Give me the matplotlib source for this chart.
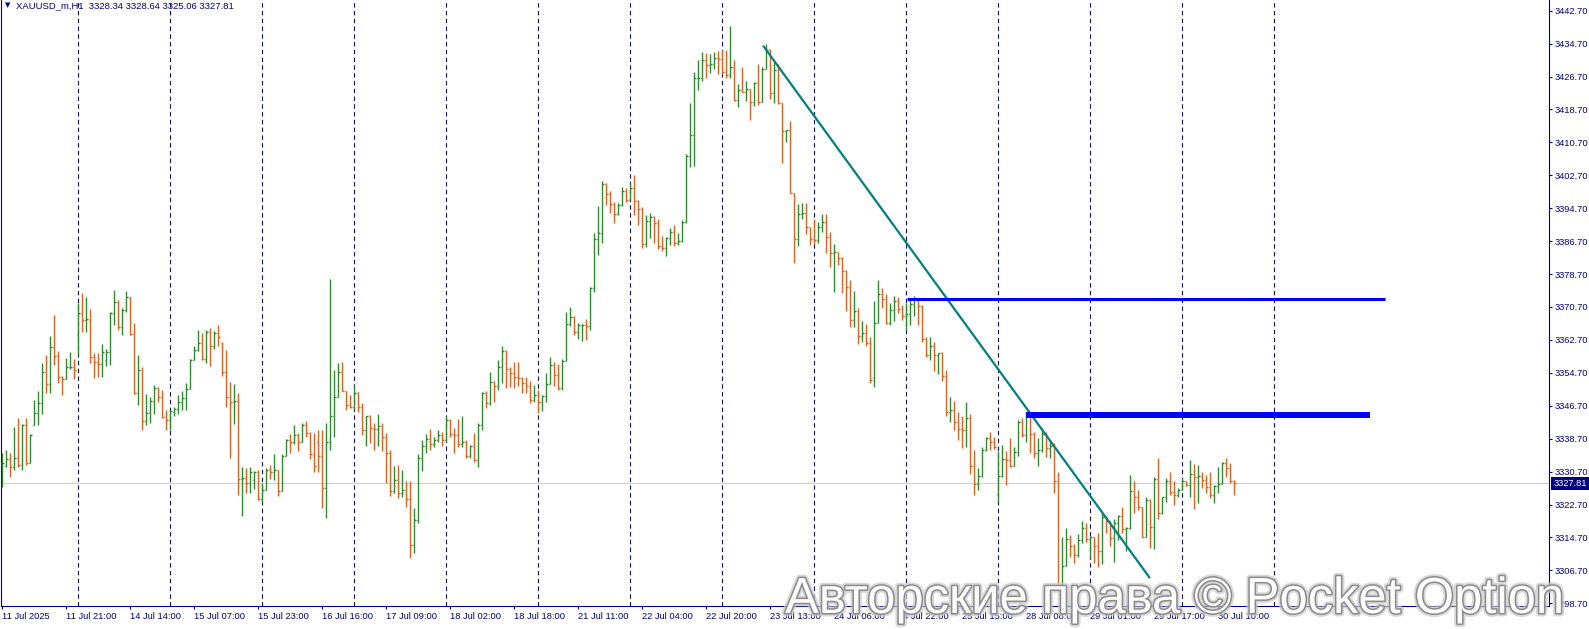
import matplotlib
matplotlib.use("Agg")
import matplotlib.pyplot as plt
import matplotlib.patheffects as pe
import numpy as np

plt.rcParams['font.family'] = ['Liberation Sans', 'DejaVu Sans']

# ---------------- data (XAUUSD_m, H1) ----------------
opens = [
    3332.3, 3332.1, 3333.7, 3331.8, 3334.1, 3332.3, 3341.9, 3332.9, 3342.0, 3344.9,
    3347.3, 3355.0, 3352.0, 3361.0, 3358.7, 3353.8, 3353.2, 3356.0, 3356.1, 3363.8,
    3369.3, 3367.5, 3367.5, 3358.5, 3357.3, 3356.8, 3357.7, 3359.7, 3369.2, 3371.9,
    3365.9, 3370.0, 3373.2, 3364.2, 3349.9, 3355.4, 3343.1, 3344.9, 3347.9, 3351.0,
    3348.8, 3343.9, 3343.3, 3345.3, 3345.9, 3347.6, 3348.5, 3350.7, 3357.8, 3360.3,
    3362.0, 3358.0, 3364.6, 3361.1, 3364.3, 3362.0, 3354.8, 3348.9, 3347.7, 3347.9,
    3328.8, 3329.1, 3328.0, 3328.7, 3330.7, 3324.0, 3326.3, 3331.1, 3330.7, 3331.1,
    3326.1, 3334.4, 3338.4, 3338.0, 3339.5, 3337.8, 3342.0, 3340.0, 3335.0, 3338.0,
    3334.5, 3326.7, 3338.0, 3344.1, 3348.9, 3354.8, 3350.4, 3346.9, 3346.5, 3349.7,
    3346.5, 3340.8, 3344.1, 3341.2, 3341.0, 3341.8, 3339.2, 3335.3, 3325.9, 3328.7,
    3325.5, 3326.3, 3324.0, 3312.9, 3318.9, 3333.9, 3336.8, 3338.5, 3337.4, 3338.4,
    3339.6, 3338.4, 3343.3, 3339.9, 3339.5, 3337.4, 3337.8, 3334.4, 3336.8, 3333.4,
    3342.0, 3349.7, 3347.3, 3352.5, 3351.4, 3356.2, 3360.1, 3355.6, 3354.6, 3353.6,
    3353.4, 3352.3, 3351.4, 3348.1, 3349.3, 3347.7, 3349.1, 3352.0, 3356.6, 3354.2,
    3351.1, 3357.6, 3366.6, 3368.2, 3364.5, 3366.2, 3366.4, 3366.0, 3375.4, 3387.1,
    3388.6, 3400.5, 3398.1, 3395.7, 3393.3, 3395.5, 3398.9, 3396.7, 3399.5, 3396.5,
    3394.4, 3385.9, 3391.6, 3392.5, 3391.0, 3385.5, 3385.1, 3387.4, 3388.9, 3386.2,
    3386.8, 3391.3, 3407.5, 3412.5, 3426.3, 3426.4, 3430.7, 3429.5, 3429.8, 3431.3,
    3430.9, 3427.9, 3427.1, 3428.9, 3421.0, 3423.4, 3423.0, 3423.7, 3420.4, 3425.1,
    3420.6, 3428.5, 3433.2, 3422.6, 3428.3, 3420.2, 3413.5, 3413.7, 3398.3, 3387.1,
    3393.3, 3393.5, 3390.1, 3387.1, 3387.0, 3390.1, 3391.4, 3387.6, 3383.9, 3384.1,
    3382.5, 3379.5, 3375.6, 3367.5, 3369.8, 3363.7, 3364.3, 3362.0, 3353.4, 3366.7,
    3373.8, 3372.6, 3366.9, 3370.0, 3372.2, 3370.1, 3368.4, 3369.0, 3371.4, 3373.0,
    3370.9, 3362.9, 3359.0, 3361.1, 3359.0, 3359.4, 3353.9, 3345.3, 3345.7, 3342.8,
    3341.0, 3340.7, 3343.7, 3332.1, 3327.7, 3329.7, 3336.0, 3338.8, 3338.0, 3325.3,
    3329.7, 3333.7, 3333.4, 3332.1, 3335.5, 3342.8, 3339.6, 3344.1, 3339.9, 3335.2,
    3336.0, 3339.9, 3336.5, 3336.8, 3328.3, 3302.0, 3307.8, 3314.3, 3312.6, 3310.5,
    3314.1, 3316.9, 3314.3, 3314.7, 3312.5, 3311.3, 3319.6, 3318.6, 3314.5, 3318.3,
    3319.8, 3316.7, 3317.0, 3326.1, 3324.6, 3322.0, 3314.9, 3323.7, 3317.3, 3328.8,
    3320.6, 3324.5, 3328.3, 3325.8, 3325.0, 3326.2, 3328.3, 3327.5, 3330.1, 3329.3,
    3329.6, 3328.7, 3326.9, 3325.0, 3327.1, 3327.7, 3332.7, 3331.5, 3328.34,
]
highs = [
    3335.2, 3336.0, 3335.3, 3341.6, 3343.7, 3342.3, 3343.7, 3339.9, 3348.1, 3350.3,
    3357.2, 3359.1, 3363.7, 3368.8, 3359.9, 3353.9, 3358.2, 3359.8, 3358.0, 3371.6,
    3374.2, 3373.2, 3370.2, 3359.6, 3359.5, 3361.7, 3360.4, 3369.6, 3374.8, 3372.4,
    3370.4, 3374.7, 3373.2, 3366.7, 3359.1, 3356.2, 3349.6, 3348.9, 3351.8, 3351.2,
    3350.5, 3345.7, 3345.7, 3346.5, 3349.3, 3350.4, 3352.2, 3358.1, 3361.2, 3365.0,
    3364.3, 3365.1, 3365.5, 3364.9, 3366.3, 3362.3, 3360.3, 3352.4, 3352.0, 3349.9,
    3331.9, 3331.5, 3331.9, 3330.9, 3331.1, 3327.9, 3331.6, 3332.3, 3334.9, 3331.1,
    3334.9, 3338.6, 3339.8, 3342.0, 3340.0, 3342.5, 3342.9, 3340.2, 3340.0, 3340.8,
    3340.7, 3342.5, 3377.4, 3355.4, 3357.2, 3357.4, 3350.4, 3349.3, 3351.8, 3350.1,
    3347.3, 3344.2, 3344.4, 3342.5, 3344.7, 3342.6, 3340.0, 3336.0, 3332.1, 3332.2,
    3331.1, 3328.3, 3328.3, 3321.8, 3335.0, 3338.4, 3339.9, 3341.0, 3339.0, 3340.7,
    3340.2, 3344.1, 3343.4, 3341.2, 3343.4, 3344.2, 3338.4, 3337.2, 3340.0, 3342.6,
    3350.1, 3350.4, 3355.0, 3352.6, 3357.7, 3361.2, 3360.3, 3356.2, 3357.4, 3357.4,
    3353.6, 3353.6, 3352.8, 3351.8, 3350.5, 3349.3, 3354.6, 3358.6, 3357.4, 3356.9,
    3358.0, 3369.6, 3370.8, 3368.4, 3366.7, 3366.6, 3367.9, 3375.6, 3388.6, 3395.3,
    3401.4, 3400.9, 3398.9, 3396.1, 3395.9, 3399.8, 3399.5, 3400.9, 3402.8, 3396.6,
    3395.1, 3393.1, 3393.6, 3392.7, 3392.2, 3388.0, 3387.6, 3390.0, 3390.6, 3388.6,
    3391.9, 3407.8, 3420.2, 3427.7, 3430.7, 3432.7, 3432.3, 3432.1, 3432.6, 3432.8,
    3433.2, 3433.2, 3439.0, 3430.7, 3424.8, 3428.9, 3425.5, 3423.7, 3425.3, 3429.7,
    3428.9, 3434.5, 3433.4, 3430.5, 3429.7, 3420.2, 3413.7, 3415.9, 3398.3, 3395.7,
    3395.9, 3395.9, 3390.1, 3392.2, 3391.4, 3393.3, 3393.3, 3389.0, 3386.0, 3384.1,
    3382.9, 3379.7, 3377.3, 3374.7, 3370.4, 3367.4, 3366.6, 3363.5, 3372.2, 3377.3,
    3375.2, 3373.9, 3371.6, 3373.4, 3373.2, 3371.2, 3371.6, 3372.8, 3373.4, 3373.0,
    3371.2, 3363.5, 3363.3, 3362.3, 3359.6, 3359.8, 3355.4, 3348.9, 3347.9, 3345.3,
    3344.1, 3347.6, 3344.7, 3336.0, 3331.5, 3336.6, 3339.2, 3340.2, 3339.2, 3335.6,
    3337.2, 3335.6, 3338.8, 3336.6, 3343.3, 3343.7, 3345.0, 3344.9, 3340.4, 3338.8,
    3341.2, 3340.4, 3338.4, 3337.6, 3330.5, 3314.9, 3316.9, 3315.3, 3313.1, 3315.6,
    3318.6, 3318.3, 3315.1, 3314.7, 3315.7, 3320.6, 3319.8, 3318.8, 3319.1, 3320.2,
    3322.2, 3317.3, 3329.9, 3328.3, 3326.2, 3322.0, 3324.5, 3324.0, 3329.5, 3333.9,
    3324.6, 3329.1, 3330.7, 3328.5, 3326.6, 3329.1, 3328.3, 3333.5, 3332.6, 3332.3,
    3330.5, 3329.9, 3330.7, 3327.5, 3331.9, 3333.1, 3333.9, 3332.9, 3328.64,
]
lows = [
    3326.9, 3331.8, 3329.5, 3331.1, 3331.9, 3331.0, 3332.3, 3332.7, 3341.9, 3341.9,
    3344.7, 3349.9, 3349.9, 3356.6, 3352.3, 3349.2, 3353.1, 3355.7, 3353.1, 3359.1,
    3364.6, 3364.7, 3357.0, 3353.5, 3353.6, 3353.8, 3356.4, 3356.5, 3366.3, 3365.1,
    3363.9, 3369.6, 3363.9, 3349.6, 3346.9, 3340.8, 3342.0, 3342.6, 3344.7, 3347.7,
    3343.7, 3340.8, 3340.7, 3344.1, 3344.6, 3345.7, 3345.7, 3350.7, 3357.8, 3360.1,
    3357.7, 3357.2, 3356.4, 3360.5, 3361.2, 3353.9, 3346.3, 3334.1, 3342.3, 3325.0,
    3319.9, 3325.6, 3325.6, 3326.4, 3323.7, 3323.2, 3326.3, 3328.9, 3328.7, 3324.8,
    3325.9, 3334.4, 3335.3, 3337.4, 3335.8, 3337.8, 3339.2, 3333.7, 3330.7, 3330.7,
    3321.8, 3319.4, 3336.0, 3339.2, 3348.9, 3350.4, 3345.7, 3346.1, 3345.7, 3345.3,
    3339.6, 3337.0, 3337.6, 3336.0, 3336.8, 3335.8, 3328.0, 3324.8, 3325.6, 3324.4,
    3324.6, 3322.0, 3309.7, 3310.9, 3318.2, 3330.9, 3335.3, 3336.0, 3336.6, 3338.0,
    3336.8, 3337.8, 3339.2, 3335.2, 3336.6, 3336.6, 3333.9, 3333.9, 3333.1, 3331.8,
    3340.7, 3346.1, 3347.0, 3347.7, 3350.5, 3352.2, 3351.0, 3351.2, 3351.0, 3351.4,
    3349.9, 3349.9, 3347.4, 3347.7, 3344.9, 3345.5, 3347.5, 3352.0, 3351.5, 3350.5,
    3350.5, 3357.6, 3366.1, 3363.9, 3362.9, 3362.5, 3362.7, 3365.0, 3374.4, 3383.3,
    3386.2, 3395.5, 3393.6, 3391.2, 3393.1, 3395.3, 3396.3, 3396.7, 3393.1, 3390.6,
    3385.0, 3385.2, 3387.4, 3386.2, 3384.7, 3384.2, 3383.2, 3385.8, 3385.6, 3385.8,
    3386.6, 3391.1, 3404.8, 3405.0, 3423.4, 3425.5, 3426.3, 3427.5, 3428.5, 3427.2,
    3427.2, 3426.3, 3426.4, 3420.8, 3419.2, 3422.9, 3420.8, 3416.2, 3419.6, 3419.8,
    3420.5, 3428.5, 3421.2, 3420.2, 3420.0, 3405.6, 3410.7, 3398.3, 3381.3, 3385.5,
    3392.2, 3388.4, 3385.8, 3386.0, 3386.3, 3388.8, 3383.7, 3380.5, 3374.4, 3380.9,
    3374.2, 3369.8, 3365.9, 3365.8, 3361.7, 3362.3, 3361.1, 3352.3, 3351.2, 3366.7,
    3370.4, 3366.6, 3366.3, 3367.4, 3369.3, 3367.6, 3365.1, 3366.3, 3368.4, 3366.3,
    3362.3, 3358.6, 3357.7, 3355.2, 3354.4, 3352.6, 3344.1, 3342.8, 3340.7, 3338.4,
    3336.4, 3336.6, 3330.1, 3325.0, 3326.3, 3329.5, 3335.6, 3336.0, 3336.1, 3323.4,
    3329.3, 3327.5, 3331.9, 3332.0, 3334.4, 3339.2, 3338.0, 3335.3, 3333.9, 3332.1,
    3335.5, 3334.3, 3333.9, 3325.4, 3301.6, 3301.9, 3307.8, 3310.0, 3308.6, 3310.0,
    3313.3, 3313.7, 3309.6, 3308.6, 3307.6, 3308.3, 3315.7, 3312.5, 3308.8, 3314.1,
    3315.7, 3311.3, 3316.7, 3320.7, 3321.4, 3314.8, 3314.8, 3312.1, 3311.8, 3319.1,
    3320.5, 3323.4, 3325.0, 3322.6, 3324.6, 3326.2, 3327.1, 3324.6, 3321.5, 3323.0,
    3326.7, 3325.4, 3324.2, 3323.0, 3325.4, 3327.6, 3329.5, 3327.9, 3325.06,
]
closes = [
    3332.7, 3333.8, 3331.8, 3334.1, 3332.3, 3341.9, 3332.9, 3339.5, 3344.9, 3347.3,
    3355.0, 3352.0, 3361.0, 3358.7, 3353.8, 3353.2, 3356.0, 3356.1, 3355.4, 3369.3,
    3367.5, 3367.7, 3358.5, 3357.3, 3356.8, 3359.7, 3359.7, 3369.2, 3371.9, 3365.9,
    3370.0, 3373.2, 3364.2, 3349.9, 3355.4, 3343.1, 3344.9, 3347.9, 3351.0, 3348.8,
    3343.9, 3343.3, 3345.5, 3345.9, 3347.6, 3348.5, 3350.7, 3357.8, 3360.3, 3362.0,
    3358.0, 3364.6, 3361.1, 3364.3, 3363.5, 3354.8, 3348.9, 3347.7, 3347.9, 3328.8,
    3329.1, 3328.0, 3330.7, 3330.7, 3324.0, 3326.3, 3331.1, 3330.7, 3331.1, 3326.1,
    3334.4, 3338.4, 3338.0, 3339.5, 3337.8, 3342.0, 3340.0, 3335.0, 3332.0, 3334.5,
    3326.7, 3338.0, 3344.1, 3348.9, 3354.8, 3350.4, 3346.9, 3346.5, 3349.7, 3346.5,
    3340.8, 3344.1, 3341.2, 3341.0, 3341.8, 3339.2, 3335.3, 3325.9, 3328.7, 3325.5,
    3326.3, 3324.0, 3312.9, 3318.9, 3333.9, 3336.8, 3338.5, 3337.4, 3338.4, 3339.6,
    3338.4, 3343.3, 3339.9, 3339.5, 3337.4, 3337.8, 3334.4, 3336.8, 3333.4, 3342.0,
    3349.7, 3347.3, 3352.5, 3351.4, 3356.2, 3360.1, 3355.6, 3354.6, 3353.6, 3353.4,
    3352.3, 3351.4, 3348.1, 3349.3, 3347.7, 3349.1, 3352.0, 3356.6, 3354.2, 3351.1,
    3357.6, 3366.6, 3368.2, 3364.5, 3366.2, 3366.4, 3366.0, 3375.4, 3387.1, 3388.6,
    3400.5, 3398.1, 3395.7, 3393.3, 3395.5, 3398.9, 3396.7, 3399.5, 3396.5, 3394.4,
    3385.9, 3391.6, 3392.5, 3391.0, 3385.5, 3385.1, 3387.4, 3388.9, 3386.2, 3386.8,
    3391.3, 3407.5, 3412.5, 3426.3, 3426.4, 3430.7, 3429.5, 3429.8, 3431.3, 3430.9,
    3427.9, 3427.1, 3428.9, 3421.0, 3423.4, 3423.0, 3423.7, 3420.4, 3425.1, 3420.6,
    3428.5, 3433.2, 3422.6, 3428.3, 3420.2, 3413.5, 3413.7, 3398.3, 3387.1, 3393.3,
    3393.5, 3390.1, 3387.1, 3387.0, 3390.1, 3391.4, 3387.6, 3383.9, 3384.1, 3382.5,
    3379.5, 3375.6, 3367.5, 3369.8, 3363.7, 3364.3, 3362.0, 3353.0, 3366.7, 3373.8,
    3372.6, 3366.9, 3370.0, 3372.2, 3370.1, 3368.4, 3369.0, 3371.4, 3373.0, 3370.9,
    3362.9, 3359.0, 3361.1, 3359.0, 3359.4, 3353.9, 3345.3, 3345.7, 3342.8, 3341.0,
    3340.7, 3343.7, 3332.1, 3327.7, 3329.7, 3336.0, 3338.8, 3338.0, 3336.6, 3329.7,
    3333.7, 3333.4, 3332.1, 3335.5, 3342.8, 3339.6, 3344.1, 3339.9, 3335.2, 3336.0,
    3339.9, 3336.5, 3336.8, 3328.3, 3302.0, 3307.8, 3314.3, 3312.6, 3310.5, 3314.1,
    3316.9, 3314.3, 3314.7, 3312.5, 3311.3, 3319.6, 3318.6, 3314.5, 3318.3, 3319.8,
    3316.7, 3317.0, 3326.1, 3324.6, 3322.0, 3314.9, 3323.7, 3317.3, 3328.8, 3320.6,
    3324.5, 3328.3, 3325.8, 3325.0, 3326.2, 3328.3, 3327.5, 3330.1, 3329.3, 3329.6,
    3328.7, 3326.9, 3325.0, 3327.1, 3327.7, 3332.7, 3331.5, 3328.3, 3327.81,
]

time_labels = ['11 Jul 2025', '11 Jul 21:00', '14 Jul 14:00', '15 Jul 07:00', '15 Jul 23:00',
               '16 Jul 16:00', '17 Jul 09:00', '18 Jul 02:00', '18 Jul 18:00', '21 Jul 11:00',
               '22 Jul 04:00', '22 Jul 20:00', '23 Jul 13:00', '24 Jul 06:00', '24 Jul 22:00',
               '25 Jul 15:00', '28 Jul 08:00', '29 Jul 01:00', '29 Jul 17:00', '30 Jul 10:00']
label_bars = list(range(0, 305, 16))
day_start_bars = list(range(19, 319, 23))
price_ticks = [3298.70 + 8 * k for k in range(19)]
last_price = 3327.81

trend_x = [190.2, 286.9]
trend_y = [3434.2, 3304.8]
level_hi = 3372.6
level_hi_x = [226.1, 345.7]
level_lo = 3344.5
level_lo_x = [255.9, 341.9]

# ---------------- figure ----------------
W, H = 1589, 629
fig = plt.figure(figsize=(W / 100, H / 100), dpi=100)
fig.patch.set_facecolor('white')
ax_left, ax_right, ax_top, ax_bot = 1, 1549, 0, 606
ax = fig.add_axes([ax_left / W, 1 - ax_bot / H, (ax_right - ax_left) / W, (ax_bot - ax_top) / H])

px_per_bar = 4.0
x0_px = 2.33
ax.set_xlim((ax_left - x0_px) / px_per_bar, (ax_right - x0_px) / px_per_bar)
ppu = 4.115
ax.set_ylim(3442.7 - (ax_bot - 10.7) / ppu, 3442.7 - (ax_top - 10.7) / ppu)

navy = '#000080'
grid_col = '#10106a'
up_col = '#2f8a2f'
dn_col = '#e0621e'

idx = np.arange(len(closes))
o = np.array(opens); h = np.array(highs); l = np.array(lows); c = np.array(closes)
cols = [up_col if cc > oo else dn_col for oo, cc in zip(o, c)]

# grid (day separators) and current price line
for b in day_start_bars:
    ax.axvline(b, color=grid_col, lw=0.8, linestyle=(0, (4, 3)), zorder=1, snap=True)
ax.axhline(last_price, color='#cfcfcf', lw=0.8, zorder=0.5, snap=True)

# OHLC bars
tw = 0.45
ax.vlines(idx, l, h, colors=cols, lw=1.0, zorder=3)
ax.hlines(o, idx - tw, idx, colors=cols, lw=1.0, zorder=3)
ax.hlines(c, idx, idx + tw, colors=cols, lw=1.0, zorder=3)

# drawn objects
ax.plot(trend_x, trend_y, color='#008080', lw=1.6, zorder=4, solid_capstyle='butt')
ax.hlines(level_hi, level_hi_x[0], level_hi_x[1], color='#0000ff', lw=2.2, zorder=4)
ax.hlines(level_lo, level_lo_x[0], level_lo_x[1], color='#0000ff', lw=4.3, zorder=4)

# spines
ax.spines['top'].set_visible(False)
for s in ['left', 'right', 'bottom']:
    ax.spines[s].set_color(navy)
    ax.spines[s].set_linewidth(0.8)

# axes ticks
ax.yaxis.tick_right()
ax.set_yticks(price_ticks)
ax.set_yticklabels([f'{p:.2f}' for p in price_ticks])
ax.tick_params(axis='y', direction='out', length=2.3, width=0.8, color=navy,
               labelcolor=navy, labelsize=6.7, pad=2)
ax.set_xticks(label_bars)
ax.set_xticklabels(time_labels)
ax.tick_params(axis='x', direction='out', length=2.3, width=0.8, color=navy,
               labelcolor=navy, labelsize=6.7, pad=1.8)
for t in ax.get_xticklabels():
    t.set_horizontalalignment('left')

# last price box
ax.annotate(f'{last_price:.2f}', xy=(1, last_price), xycoords=('axes fraction', 'data'),
            xytext=(3.2, 0), textcoords='offset points', va='center', ha='left',
            color='white', fontsize=6.7,
            bbox=dict(boxstyle='square,pad=0.25', fc=navy, ec='none'), zorder=6)

# header
fig.text(5 / W, 1 - 5.5 / H, '▼', fontsize=5, color=navy, family='DejaVu Sans',
         va='center', ha='left')
fig.text(16.5 / W, 1 - 5.5 / H, 'XAUUSD_m,H1  3328.34 3328.64 3325.06 3327.81',
         fontsize=6.8, color=navy, va='center', ha='left')

# watermark
fig.text(785 / W, 1 - 613 / H, 'Авторские права © Pocket Option', fontsize=36.5,
         color='white', va='baseline', ha='left', zorder=10,
         path_effects=[pe.Stroke(linewidth=5, foreground='#c8c8c8', alpha=0.7),
                       pe.Stroke(linewidth=2.2, foreground='#8a8a8a'),
                       pe.Normal()])

fig.savefig('out.png', dpi=100, facecolor='white')
